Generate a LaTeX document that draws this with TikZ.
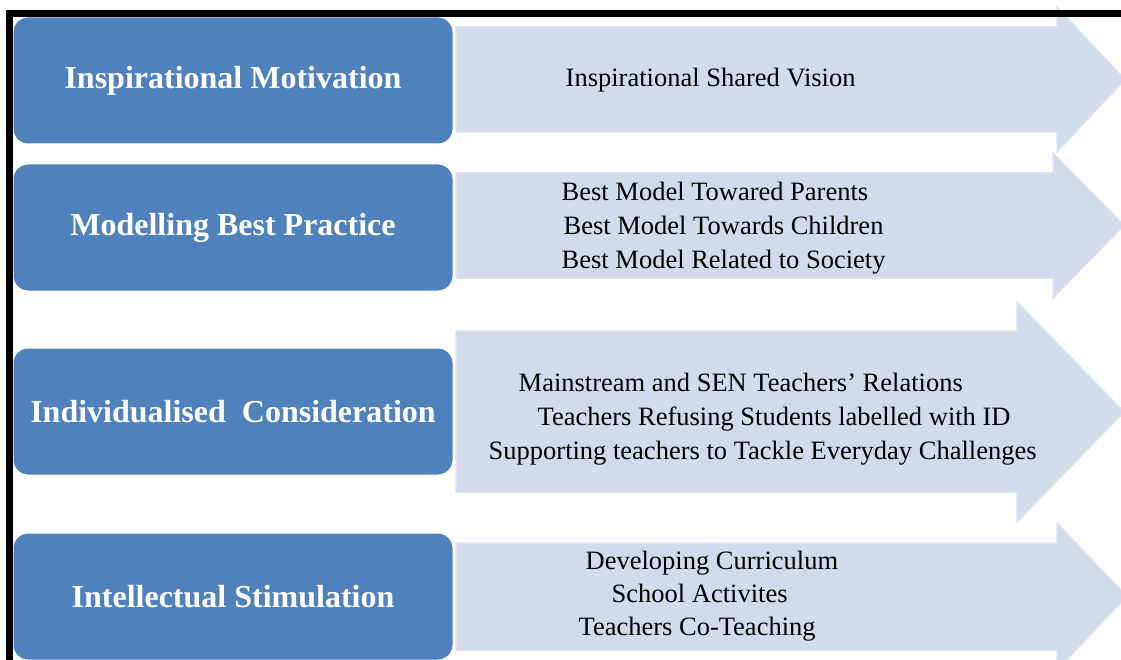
\documentclass[tikz,border=0pt]{standalone}
\usepackage{fontspec}
\setmainfont{Liberation Serif}
\usepackage{xcolor}
\usetikzlibrary{positioning, calc}
\definecolor{boxblue}{HTML}{4F81BD}
\definecolor{bandfill}{HTML}{D3DBEA}
\definecolor{bandedge}{HTML}{DCE2EE}

\begin{document}
\begin{tikzpicture}[
    x=1pt, y=-1pt,
    theme/.style={rectangle, draw=white, line width=1pt, fill=boxblue, rounded corners=15pt, minimum width=440pt, minimum height=127pt, inner sep=0pt, text=white, font=\fontsize{32}{36}\selectfont\bfseries},
    band/.style={fill=bandfill, draw=bandedge, line width=1.5pt, line join=miter},
    item/.style={anchor=west, align=left, inner sep=0pt, font=\fontsize{26.5}{34}\selectfont},
    frameline/.style={draw=black, line width=7pt, line join=miter}
]
    \useasboundingbox (0,0) rectangle (1121,660);
    \clip (0,0) rectangle (1121,660);

    % Arrow bands
    \foreach \bt/\bb/\ht/\hb/\base/\tip in {27/132/7/152/1057/1125, 173/278/153/298/1053/1124, 331/492/302/522/1017/1124, 543/650/523/670/1057/1127}
        \draw[band] (456,\bt) -- (\base,\bt) -- (\base,\ht) -- (\tip,{(\ht+\hb)/2}) -- (\base,\hb) -- (\base,\bb) -- (456,\bb) -- cycle;

    % Leadership themes
    \node[theme] (insp) at (233,80.5) {Inspirational Motivation};
    \node[theme, below=19pt of insp] (model) {Modelling Best Practice};
    \node[theme, below=56pt of model] (indiv) {Individualised~ Consideration};
    \node[theme, below=57pt of indiv] (intel) {Intellectual Stimulation};

    % Outcomes
    \node[item, right=112pt of insp] (vision) {Inspirational Shared Vision};
    \node[item, right=108pt of model, yshift=-1pt] (bestmodel) {Best Model Towared Parents\\
        \hspace*{2pt}Best Model Towards Children\\
        Best Model Related to Society};
    \node[item, right=35pt of indiv, yshift=-8pt] (support) {\hspace*{30pt}Mainstream and SEN Teachers' Relations\\
        \hspace*{49pt}Teachers Refusing Students labelled with ID\\
        Supporting teachers to Tackle Everyday Challenges};
    \node[item, right=125pt of intel, yshift=0pt, font=\fontsize{26.5}{33}\selectfont] (curric) {\hspace*{7pt}Developing Curriculum\\
        \hspace*{33pt}School Activites\\
        Teachers Co-Teaching};

    % Frame
    \draw[frameline] (9.5,700) -- (9.5,13.5) -- (1150,13.5);
\end{tikzpicture}
\end{document}
